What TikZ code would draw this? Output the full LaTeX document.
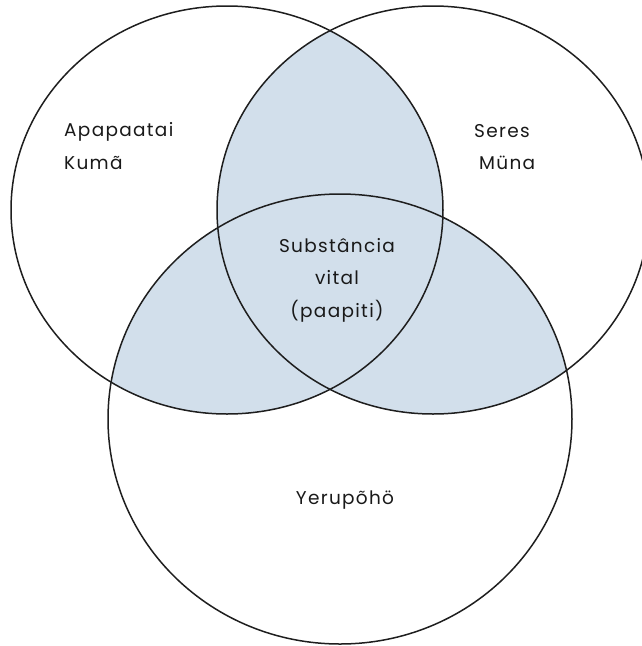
\documentclass[tikz,border=0pt]{standalone}
\usepackage{fontspec}
\setmainfont{Poppins}[LetterSpace=7]
\definecolor{overlapfill}{RGB}{210,223,235}
\definecolor{rimline}{RGB}{30,30,30}
\begin{document}
\begin{tikzpicture}[x=1pt,y=-1pt,
  rim/.style={draw=rimline,line width=1.5pt},
  lbl/.style={font=\fontsize{18.5}{32.5}\selectfont,text=black!90,inner sep=0pt},
  leftset/.style={x radius=216pt,y radius=204pt},
  rightset/.style={x radius=216pt,y radius=204pt},
  lowset/.style={x radius=232pt,y radius=225pt}]
  \useasboundingbox (0,0) rectangle (641,646);
  % set centres
  \coordinate (cl) at (227,210);
  \coordinate (cr) at (433,210);
  \coordinate (cb) at (340,419);
  % shaded overlaps of each pair of sets
  \begin{scope}
    \clip (cl) ellipse [leftset];
    \fill[overlapfill] (cr) ellipse [rightset];
  \end{scope}
  \begin{scope}
    \clip (cl) ellipse [leftset];
    \fill[overlapfill] (cb) ellipse [lowset];
  \end{scope}
  \begin{scope}
    \clip (cr) ellipse [rightset];
    \fill[overlapfill] (cb) ellipse [lowset];
  \end{scope}
  % outlines
  \draw[rim] (cl) ellipse [leftset];
  \draw[rim] (cr) ellipse [rightset];
  \draw[rim] (cb) ellipse [lowset];
  % labels
  \node[lbl,align=left,anchor=west] (apapaatai) at (64,146) {Apapaatai\\Kumã};
  \node[lbl,align=left,anchor=west] (seres) at (474,147) {Seres\\\hspace*{5pt}Müna};
  \node[lbl,align=center] (vital) at (337,280) {Substância\\vital\\(paapiti)};
  \node[lbl] (yerupoho) at (345,500) {Yerupõhö};
\end{tikzpicture}
\end{document}
